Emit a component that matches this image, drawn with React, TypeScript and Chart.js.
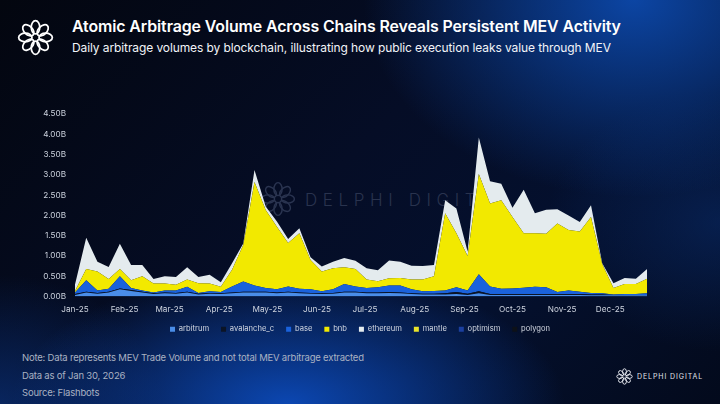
import React, { useEffect, useRef } from "react";
import { Chart, registerables } from "chart.js";

Chart.register(...registerables);

// ---- Data (values in billions USD, weekly points) ----
const monthTickDays = [0, 31, 59, 90, 120, 151, 181, 212, 243, 273, 304, 334];
const monthLabels = ["Jan-25", "Feb-25", "Mar-25", "Apr-25", "May-25", "Jun-25", "Jul-25", "Aug-25", "Sep-25", "Oct-25", "Nov-25", "Dec-25"];
const yTickValues = [0, 0.5, 1, 1.5, 2, 2.5, 3, 3.5, 4, 4.5];
const weekCount = 52;
const weekDays = Array.from({ length: weekCount }, (_, i) => i * 7);

const arbitrum = [0.04, 0.10, 0.07, 0.10, 0.18, 0.14, 0.10, 0.06, 0.08, 0.07, 0.10, 0.05, 0.07, 0.06, 0.08, 0.10, 0.10, 0.10, 0.08, 0.10, 0.08, 0.07, 0.06, 0.07, 0.10, 0.10, 0.08, 0.08, 0.09, 0.08, 0.06, 0.05, 0.05, 0.05, 0.06, 0.04, 0.08, 0.04, 0.04, 0.04, 0.04, 0.04, 0.04, 0.04, 0.04, 0.04, 0.03, 0.03, 0.03, 0.03, 0.03, 0.03];
const avalanche_c = [0.02, 0.02, 0.02, 0.02, 0.02, 0.02, 0.02, 0.02, 0.02, 0.02, 0.02, 0.02, 0.02, 0.02, 0.02, 0.02, 0.02, 0.02, 0.02, 0.02, 0.02, 0.02, 0.02, 0.02, 0.02, 0.02, 0.02, 0.02, 0.02, 0.02, 0.02, 0.02, 0.02, 0.03, 0.05, 0.03, 0.05, 0.02, 0.02, 0.02, 0.02, 0.02, 0.02, 0.02, 0.02, 0.02, 0.02, 0.02, 0.01, 0.01, 0.01, 0.01];
const base = [0.04, 0.28, 0.06, 0.07, 0.30, 0.05, 0.03, 0.02, 0.05, 0.06, 0.12, 0.02, 0.04, 0.03, 0.15, 0.25, 0.15, 0.09, 0.08, 0.13, 0.09, 0.09, 0.05, 0.09, 0.19, 0.13, 0.11, 0.13, 0.16, 0.17, 0.10, 0.06, 0.07, 0.07, 0.12, 0.08, 0.42, 0.19, 0.13, 0.14, 0.16, 0.18, 0.17, 0.05, 0.09, 0.06, 0.04, 0.03, 0.01, 0.02, 0.02, 0.04];
const bnb = [0.04, 0.28, 0.47, 0.24, 0.18, 0.19, 0.35, 0.22, 0.17, 0.14, 0.18, 0.24, 0.19, 0.13, 0.41, 0.90, 2.55, 1.92, 1.54, 1.07, 1.37, 0.72, 0.49, 0.52, 0.41, 0.43, 0.21, 0.15, 0.18, 0.19, 0.24, 0.29, 0.36, 1.90, 1.33, 0.85, 2.47, 2.04, 2.18, 1.76, 1.34, 1.32, 1.32, 1.69, 1.49, 1.48, 1.87, 0.72, 0.16, 0.25, 0.25, 0.36];
const ethereum = [0.16, 0.77, 0.24, 0.30, 0.62, 0.38, 0.28, 0.11, 0.18, 0.19, 0.30, 0.15, 0.22, 0.11, 0.16, 0.04, 0.30, 0.09, 0.13, 0.10, 0.12, 0.07, 0.12, 0.16, 0.23, 0.20, 0.28, 0.27, 0.44, 0.40, 0.34, 0.33, 0.28, 0.32, 0.61, 0.11, 0.90, 0.55, 0.41, 0.23, 1.07, 0.49, 0.59, 0.35, 0.36, 0.24, 0.29, 0.02, 0.12, 0.15, 0.13, 0.24];
const mantle = [0, 0, 0, 0, 0, 0, 0, 0, 0, 0, 0, 0, 0, 0, 0, 0, 0, 0, 0, 0, 0, 0, 0, 0, 0, 0, 0, 0, 0, 0, 0, 0, 0, 0, 0, 0, 0, 0, 0, 0, 0, 0, 0, 0, 0, 0, 0, 0, 0, 0, 0, 0];
const optimism = [0, 0, 0, 0, 0, 0, 0, 0, 0, 0, 0, 0, 0, 0, 0, 0, 0, 0, 0, 0, 0, 0, 0, 0, 0, 0, 0, 0, 0, 0, 0, 0, 0, 0, 0, 0, 0, 0, 0, 0, 0, 0, 0, 0, 0, 0, 0, 0, 0, 0, 0, 0];
const polygon = [0, 0, 0, 0, 0, 0, 0, 0, 0, 0, 0, 0, 0, 0, 0, 0, 0, 0, 0, 0, 0, 0, 0, 0, 0, 0, 0, 0, 0, 0, 0, 0, 0, 0, 0, 0, 0, 0, 0, 0, 0, 0, 0, 0, 0, 0, 0, 0, 0, 0, 0, 0];

const seriesNames = ["arbitrum", "avalanche_c", "base", "bnb", "ethereum", "mantle", "optimism", "polygon"];
const seriesValues = [arbitrum, avalanche_c, base, bnb, ethereum, mantle, optimism, polygon];
const seriesColors = ["#4a8de8", "#0b1426", "#1a62dc", "#f2e900", "#e4ebee", "#e9e32a", "#1b3f9f", "#0d1118"];

// x axis runs a little past the last weekly point (leaves empty room on the right, like the original)
const xAxisMaxDay = 402.5;

const FONT = "Inter, 'Noto Sans', sans-serif";

// moves the legend up so it sits tight under the month labels
const legendNudge = {
  id: "legendNudge",
  afterLayout(chart: any) {
    const l = chart.legend;
    if (l) {
      l.top -= 9;
      l.bottom -= 9;
    }
  },
};

function Logo({ size, stroke, width }: { size: number; stroke: string; width: number }) {
  const n = 8;
  return (
    <svg width={size} height={size} viewBox="-20 -20 40 40" style={{ display: "block" }}>
      {Array.from({ length: n }).map((_, k) => (
        <ellipse
          key={k}
          cx={0}
          cy={-11}
          rx={4.6}
          ry={7.2}
          transform={`rotate(${(k * 360) / n})`}
          fill="none"
          stroke={stroke}
          strokeWidth={width}
        />
      ))}
    </svg>
  );
}

function ChartCanvas() {
  const ref = useRef<HTMLCanvasElement | null>(null);
  useEffect(() => {
    if (!ref.current) return;
    const datasets = seriesNames.map((name, si) => ({
      label: name,
      data: weekDays.map((d, i) => ({ x: d, y: seriesValues[si][i] })),
      backgroundColor: seriesColors[si],
      borderColor: seriesColors[si],
      borderWidth: 0,
      pointRadius: 0,
      tension: 0,
      fill: si === 0 ? "origin" : "-1",
    }));
    const chart = new Chart(ref.current, {
      type: "line",
      data: { datasets },
      plugins: [legendNudge],
      options: {
        animation: false,
        responsive: false,
        maintainAspectRatio: false,
        layout: { padding: { top: 13, right: 0, left: 0, bottom: 0 } },
        plugins: {
          tooltip: { enabled: false },
          legend: {
            position: "bottom",
            labels: {
              color: "#d3d8e2",
              boxWidth: 5,
              boxHeight: 5,
              padding: 12,
              font: { size: 7.6, family: FONT },
            },
          },
        },
        scales: {
          x: {
            type: "linear",
            min: 0,
            max: xAxisMaxDay,
            grid: { display: false, drawTicks: false },
            border: { display: false },
            afterBuildTicks: (scale: any) => {
              scale.ticks = monthTickDays.map((v) => ({ value: v }));
            },
            ticks: {
              color: "#cdd3de",
              padding: 8,
              maxRotation: 0,
              autoSkip: false,
              font: { size: 8.2, family: FONT },
              callback: (v: any) => {
                const idx = monthTickDays.indexOf(Number(v));
                return idx >= 0 ? monthLabels[idx] : "";
              },
            },
          },
          y: {
            stacked: true,
            min: 0,
            max: 4.5,
            grid: { display: false, drawTicks: false },
            border: { display: false },
            afterFit: (scale: any) => {
              scale.width = 75;
            },
            afterBuildTicks: (scale: any) => {
              scale.ticks = yTickValues.map((v) => ({ value: v }));
            },
            ticks: {
              color: "#cdd3de",
              padding: 9,
              font: { size: 8.2, family: FONT },
              callback: (v: any) => `${Number(v).toFixed(2)}B`,
            },
          },
        },
      },
    });
    return () => chart.destroy();
  }, []);
  return <canvas ref={ref} width={720} height={252} style={{ position: "absolute", left: 0, top: 100, width: 720, height: 252 }} />;
}

export default function App() {
  return (
    <div
      style={{
        position: "fixed",
        left: 0,
        top: 0,
        width: 720,
        height: 404,
        overflow: "hidden",
        fontFamily: FONT,
        background: [
          "radial-gradient(ellipse 50% 65% at 88% 0%, rgba(12,72,170,0.95), rgba(12,72,170,0) 75%)",
          "radial-gradient(ellipse 48% 42% at 40% 100%, rgba(12,74,185,0.95), rgba(12,74,185,0) 80%)",
          "radial-gradient(ellipse 28% 40% at 0% 100%, rgba(10,48,120,0.7), rgba(10,48,120,0) 80%)",
          "radial-gradient(ellipse 30% 40% at 100% 55%, rgba(10,45,110,0.55), rgba(10,45,110,0) 80%)",
          "linear-gradient(135deg, #03060f 0%, #050d26 45%, #04102e 70%, #030a1c 100%)",
        ].join(","),
      }}
    >
      {/* watermark behind chart */}
      <div style={{ position: "absolute", left: 260, top: 181 }}>
        <Logo size={36} stroke="#2a3450" width={1.6} />
      </div>
      <div
        style={{
          position: "absolute",
          left: 305,
          top: 192,
          fontSize: 17,
          letterSpacing: 5.6,
          fontWeight: 300,
          color: "#29334e",
          lineHeight: 1,
          whiteSpace: "nowrap",
        }}
      >
        DELPHI DIGITAL
      </div>

      <ChartCanvas />

      {/* header */}
      <div style={{ position: "absolute", left: 17, top: 19 }}>
        <Logo size={37} stroke="#ffffff" width={1.9} />
      </div>
      <div
        style={{
          position: "absolute",
          left: 72,
          top: 19,
          fontSize: 15.9,
          fontWeight: 600,
          color: "#ffffff",
          lineHeight: 1,
          whiteSpace: "nowrap",
          letterSpacing: -0.1,
        }}
      >
        Atomic Arbitrage Volume Across Chains Reveals Persistent MEV Activity
      </div>
      <div
        style={{
          position: "absolute",
          left: 72,
          top: 42,
          fontSize: 12,
          fontWeight: 400,
          color: "#f2f4f8",
          lineHeight: 1,
          whiteSpace: "nowrap",
          letterSpacing: -0.1,
        }}
      >
        Daily arbitrage volumes by blockchain, illustrating how public execution leaks value through MEV
      </div>

      {/* notes */}
      {[
        "Note: Data represents MEV Trade Volume and not total MEV arbitrage extracted",
        "Data as of Jan 30, 2026",
        "Source: Flashbots",
      ].map((t, i) => (
        <div
          key={i}
          style={{
            position: "absolute",
            left: 22,
            top: 352 + i * 17.5,
            fontSize: 9.5,
            color: "#aab2c2",
            lineHeight: 1.2,
            whiteSpace: "nowrap",
            letterSpacing: -0.2,
          }}
        >
          {t}
        </div>
      ))}

      {/* footer logo */}
      <div style={{ position: "absolute", left: 616, top: 368 }}>
        <Logo size={17} stroke="#e6e9ef" width={2.2} />
      </div>
      <div
        style={{
          position: "absolute",
          left: 637,
          top: 373,
          fontSize: 7,
          letterSpacing: 0.9,
          color: "#e2e6ec",
          lineHeight: 1,
          whiteSpace: "nowrap",
        }}
      >
        DELPHI DIGITAL
      </div>
    </div>
  );
}
